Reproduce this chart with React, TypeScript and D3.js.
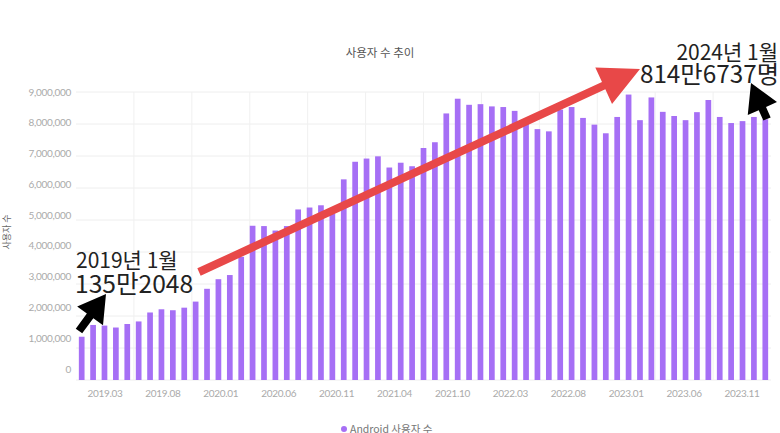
import React from 'react';
import * as d3 from 'd3';

const months = [
  '2019.01', '2019.02', '2019.03', '2019.04', '2019.05', '2019.06', '2019.07', '2019.08', '2019.09', '2019.10', '2019.11', '2019.12',
  '2020.01', '2020.02', '2020.03', '2020.04', '2020.05', '2020.06', '2020.07', '2020.08', '2020.09', '2020.10', '2020.11', '2020.12',
  '2021.01', '2021.02', '2021.03', '2021.04', '2021.05', '2021.06', '2021.07', '2021.08', '2021.09', '2021.10', '2021.11', '2021.12',
  '2022.01', '2022.02', '2022.03', '2022.04', '2022.05', '2022.06', '2022.07', '2022.08', '2022.09', '2022.10', '2022.11', '2022.12',
  '2023.01', '2023.02', '2023.03', '2023.04', '2023.05', '2023.06', '2023.07', '2023.08', '2023.09', '2023.10', '2023.11', '2023.12',
  '2024.01',
];

// Android 사용자 수 (명)
const users = [
  1352048, 1720000, 1700000, 1640000, 1750000, 1830000, 2110000, 2210000, 2180000, 2260000, 2450000, 2850000,
  3150000, 3280000, 3850000, 4820000, 4810000, 4670000, 4810000, 5330000, 5390000, 5460000, 5200000, 6270000,
  6820000, 6920000, 6990000, 6640000, 6790000, 6680000, 7250000, 7430000, 8330000, 8790000, 8600000, 8620000,
  8550000, 8530000, 8410000, 8050000, 7840000, 7770000, 8450000, 8530000, 8190000, 7980000, 7710000, 8220000,
  8920000, 8120000, 8830000, 8380000, 8250000, 8120000, 8370000, 8750000, 8220000, 8030000, 8090000, 8220000,
  8146737,
];

const xTickLabels = [
  '2019.03', '2019.08', '2020.01', '2020.06', '2020.11', '2021.04',
  '2021.10', '2022.03', '2022.08', '2023.01', '2023.06', '2023.11',
];

const yTicks = [0, 1000000, 2000000, 3000000, 4000000, 5000000, 6000000, 7000000, 8000000, 9000000];

const W = 780;
const H = 433;
const left = 76;
const right = 771;
const top = 92;
const bottom = 380;

const BAR = '#a66ff5';
const RED = '#e84848';
const KR = '"Noto Sans CJK KR", "Noto Sans", sans-serif';

// arrow polygon from tail to tip
const arrow = (x1: number, y1: number, x2: number, y2: number, shaft: number, headLen: number, headHalf: number) => {
  const dx = x2 - x1;
  const dy = y2 - y1;
  const len = Math.hypot(dx, dy);
  const ux = dx / len, uy = dy / len;
  const nx = -uy, ny = ux;
  const bx = x2 - ux * headLen, by = y2 - uy * headLen;
  const s = shaft / 2;
  const pts = [
    [x1 + nx * s, y1 + ny * s],
    [bx + nx * s, by + ny * s],
    [bx + nx * headHalf, by + ny * headHalf],
    [x2, y2],
    [bx - nx * headHalf, by - ny * headHalf],
    [bx - nx * s, by - ny * s],
    [x1 - nx * s, y1 - ny * s],
  ];
  return pts.map((p) => p.join(',')).join(' ');
};

const App = () => {
  const x = d3.scaleBand<string>().domain(months).range([left, right]).paddingInner(0.5).paddingOuter(0.25);
  const y = d3.scaleLinear().domain([0, 9000000]).range([bottom, top]);
  // the value labels sit a little higher than their grid lines in the source
  const yLabel = d3.scaleLinear().domain([0, 9000000]).range([369, top]);
  const xTick = d3.scalePoint<string>().domain(xTickLabels).range([left, right]).padding(0.5);
  const colW = (right - left) / xTickLabels.length;
  const fmt = d3.format(',');

  return (
    <div style={{ position: 'absolute', left: 0, top: 0 }}>
      <svg width={W} height={H} style={{ display: 'block', background: '#fff' }}>
        <text x={380} y={57} textAnchor="middle" fontFamily={KR} fontSize={11.5} fill="#555">사용자 수 추이</text>

        {/* grid */}
        {yTicks.map((t) => (
          <line key={`gy${t}`} x1={left} x2={right} y1={y(t)} y2={y(t)} stroke="#eeeeee" strokeWidth={1} />
        ))}
        {xTickLabels.slice(1).map((_, i) => (
          <line key={`gx${i}`} x1={left + colW * (i + 1)} x2={left + colW * (i + 1)} y1={top} y2={bottom} stroke="#f0f0f0" strokeWidth={1} />
        ))}

        {/* y labels */}
        {yTicks.map((t) => (
          <text key={`yl${t}`} x={71} y={yLabel(t)} dy="0.35em" textAnchor="end" fontFamily="Lato, sans-serif" fontSize={10} fill="#aaaaaa" letterSpacing={-0.3}>
            {fmt(t)}
          </text>
        ))}
        <text transform="translate(10,232) rotate(-90)" textAnchor="middle" fontFamily={KR} fontSize={9} fill="#666">사용자 수</text>

        {/* bars */}
        {months.map((m, i) => (
          <rect key={m} x={x(m)} y={y(users[i])} width={x.bandwidth()} height={bottom - y(users[i])} fill={BAR} />
        ))}

        {/* x labels */}
        {xTickLabels.map((l) => (
          <text key={l} x={xTick(l)} y={393} dy="0.35em" textAnchor="middle" fontFamily="Lato, sans-serif" fontSize={10} fill="#aaaaaa" letterSpacing={-0.3}>
            {l}
          </text>
        ))}

        {/* legend */}
        <circle cx={344} cy={429} r={3} fill={BAR} />
        <text x={350} y={433} fontFamily={KR} fontSize={10.5} fill="#777">Android 사용자 수</text>

        {/* annotations */}
        <polygon points={arrow(199, 272, 640, 69, 8, 40, 20)} fill={RED} />
        <polygon points={arrow(79, 331, 106, 294, 8, 27, 16)} fill="#000" />
        <polygon points={arrow(767, 119, 751, 83, 8, 28, 16)} fill="#000" />

        <text x={76} y={268} fontFamily={KR} fontSize={21} fill="#222">2019년 1월</text>
        <text x={75} y={293} fontFamily={KR} fontSize={24.6} fill="#222">135만2048</text>
        <text x={778} y={60} textAnchor="end" fontFamily={KR} fontSize={21} fill="#222">2024년 1월</text>
        <text x={779} y={83} textAnchor="end" fontFamily={KR} fontSize={24.3} fill="#222">814만6737명</text>
      </svg>
    </div>
  );
};

export default App;
